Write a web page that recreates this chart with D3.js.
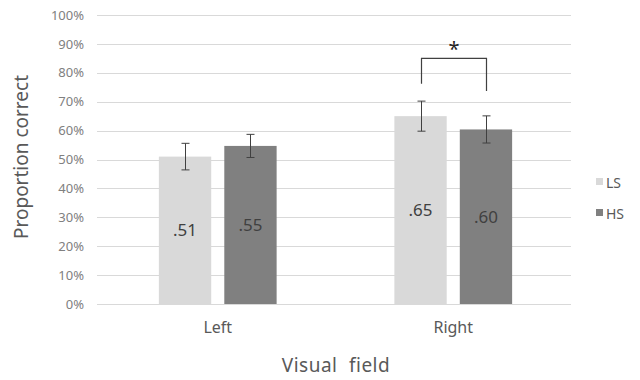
<!DOCTYPE html>
<html><head><meta charset="utf-8">
<script src="https://cdn.jsdelivr.net/npm/d3@7"></script>
<style>body{margin:0;background:#fff;font-family:"Noto Sans","Open Sans",sans-serif;}</style>
</head><body><svg id="c" width="640" height="380"></svg>
<script>
const categories = ["Left", "Right"];
const seriesNames = ["LS", "HS"];
const lsValues = [0.51, 0.65];
const hsValues = [0.547, 0.604];
const lsErrors = [0.046, 0.052];
const hsErrors = [0.040, 0.047];
const valueLabels = [[".51", ".55"], [".65", ".60"]];
const yTicks = [0, 0.1, 0.2, 0.3, 0.4, 0.5, 0.6, 0.7, 0.8, 0.9, 1.0];
const colors = ["#d9d9d9", "#808080"];

const svg = d3.select("#c");
const pLeft = 100, pRight = 571, pTop = 15, pBottom = 304;
const x = d3.scaleBand().domain(categories).range([pLeft, pRight]).paddingInner(0).paddingOuter(0);
const x1 = d3.scaleBand().domain(seriesNames).range([0, x.bandwidth()]).paddingInner(0.2).paddingOuter(0.9);
const y = d3.scaleLinear().domain([0, 1]).range([pBottom, pTop]);

// gridlines
svg.append("g").selectAll("line").data(yTicks).join("line")
  .attr("x1", pLeft - 3).attr("x2", pRight)
  .attr("y1", d => Math.round(y(d)) + 0.5).attr("y2", d => Math.round(y(d)) + 0.5)
  .attr("stroke", "#d9d9d9").attr("stroke-width", 1);

// y axis labels
const yAxis = d3.axisLeft(y).tickValues(yTicks).tickFormat(d3.format(".0%")).tickSize(0).tickPadding(0);
const ya = svg.append("g").attr("transform", `translate(${pLeft - 16},0)`).call(yAxis);
ya.select(".domain").remove();
ya.selectAll("text").attr("fill", "#808080").style("font-size", "13px").style("font-family", "Noto Sans, sans-serif");

// x axis labels
const xAxis = d3.axisBottom(x).tickSize(0).tickPadding(0);
const xa = svg.append("g").attr("transform", `translate(0,${pBottom + 18})`).call(xAxis);
xa.select(".domain").remove();
xa.selectAll("text").attr("fill", "#595959").style("font-size", "16px").style("font-family", "Noto Sans, sans-serif");

const data = [];
categories.forEach((c, i) => {
  data.push({cat: c, s: "LS", v: lsValues[i], e: lsErrors[i], lab: valueLabels[i][0], col: colors[0]});
  data.push({cat: c, s: "HS", v: hsValues[i], e: hsErrors[i], lab: valueLabels[i][1], col: colors[1]});
});

svg.append("g").selectAll("rect").data(data).join("rect")
  .attr("x", d => x(d.cat) + x1(d.s)).attr("width", x1.bandwidth())
  .attr("y", d => y(d.v)).attr("height", d => y(0) - y(d.v))
  .attr("fill", d => d.col);

// value labels
svg.append("g").selectAll("text").data(data).join("text")
  .attr("x", d => x(d.cat) + x1(d.s) + x1.bandwidth() / 2)
  .attr("y", d => (y(d.v) + y(0)) / 2 + 6)
  .attr("text-anchor", "middle").attr("fill", "#404040")
  .style("font-size", "17px").text(d => d.lab);

// error bars
const eg = svg.append("g").attr("stroke", "#404040").attr("stroke-width", 1);
data.forEach(d => {
  const cx = Math.round(x(d.cat) + x1(d.s) + x1.bandwidth() / 2) + 0.5;
  eg.append("line").attr("x1", cx).attr("x2", cx).attr("y1", y(d.v + d.e)).attr("y2", y(d.v - d.e));
  eg.append("line").attr("x1", cx - 4).attr("x2", cx + 4).attr("y1", y(d.v + d.e)).attr("y2", y(d.v + d.e));
  eg.append("line").attr("x1", cx - 4).attr("x2", cx + 4).attr("y1", y(d.v - d.e)).attr("y2", y(d.v - d.e));
});

// significance bracket on Right
const bx1 = Math.round(x("Right") + x1("LS") + x1.bandwidth() / 2) + 0.5;
const bx2 = Math.round(x("Right") + x1("HS") + x1.bandwidth() / 2) + 0.5;
const bTop = y(0.85), lLeg = y(0.762), rLeg = y(0.737);
svg.append("path")
  .attr("d", `M${bx1},${lLeg}V${bTop}H${bx2}V${rLeg}`)
  .attr("fill", "none").attr("stroke", "#404040").attr("stroke-width", 1.2);
svg.append("text").attr("x", (bx1 + bx2) / 2).attr("y", bTop - 2)
  .attr("text-anchor", "middle").attr("fill", "#262626").style("font-size", "20px").text("*");

// legend
const lg = svg.append("g");
seriesNames.forEach((s, i) => {
  lg.append("rect").attr("x", 596).attr("y", 178 + i * 31).attr("width", 7).attr("height", 7).attr("fill", colors[i]);
  lg.append("text").attr("x", 606).attr("y", 188 + i * 31).attr("fill", "#595959").style("font-size", "14px").text(s);
});

// axis titles
svg.append("text").attr("transform", "translate(28,157) rotate(-90)").attr("text-anchor", "middle")
  .attr("fill", "#595959").style("font-size", "19px").text("Proportion correct");
svg.append("text").attr("x", 336).attr("y", 372).attr("text-anchor", "middle")
  .attr("fill", "#595959").style("font-size", "19px").style("word-spacing", "6px").style("letter-spacing", "0.5px").text("Visual field");
</script></body></html>
